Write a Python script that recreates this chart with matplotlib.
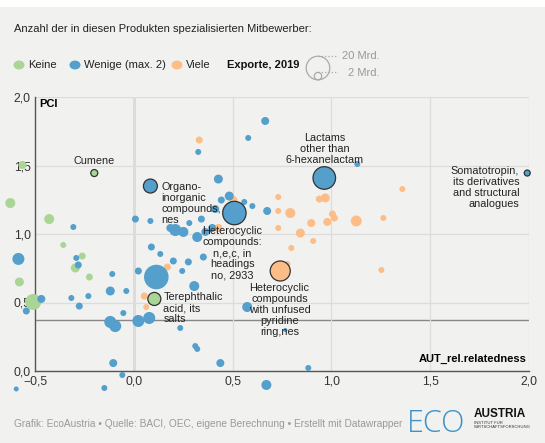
import matplotlib
matplotlib.use("Agg")
import matplotlib.pyplot as plt
from matplotlib.patches import Rectangle, Circle
import numpy as np

plt.rcParams['font.family'] = ['Liberation Sans', 'DejaVu Sans']

# relatedness (x), PCI (y), exports in Mrd (size)
keine_x = [-0.625, -0.564, -0.428, -0.200, -0.357, -0.261, -0.296, -0.225, -0.579, -0.509, 0.104]
keine_y = [1.226, 1.504, 1.109, 1.445, 0.920, 0.839, 0.752, 0.686, 0.650, 0.504, 0.526]
keine_v = [3.6, 2.3, 3.6, 1.76, 1.29, 1.76, 2.9, 1.76, 2.9, 9.2, 6.1]

wenige_x = [-0.306, 0.008, 0.084, 0.326, 0.428, 0.579, 0.665, 0.443, 0.483, 0.559,
            0.600, 0.675, 0.342, 0.412, 0.281, 0.210, 0.251, 0.185, 0.321, 0.362,
            0.397, 0.089, 0.134, 0.200, 0.276, 0.352, 0.023, -0.109, 0.245, 0.306,
            -0.119, -0.038, -0.053, -0.119, -0.094, 0.023, 0.078, 0.235, 0.574, 0.311,
            0.321, -0.104, 0.438, -0.058, -0.149, 0.671, -0.595, 0.883, -0.584, -0.468,
            -0.544, -0.316, -0.276, -0.230, -0.291, -0.281, 1.131, 0.767,
            0.084, 0.509, 0.114, 0.964, 1.991]
wenige_y = [1.051, 1.109, 1.095, 1.599, 1.401, 1.701, 1.825, 1.248, 1.277, 1.234,
            1.204, 1.168, 1.109, 1.182, 1.080, 1.029, 1.015, 1.044, 0.978, 1.015,
            1.044, 0.905, 0.854, 0.803, 0.796, 0.832, 0.730, 0.708, 0.730, 0.620,
            0.584, 0.584, 0.423, 0.358, 0.328, 0.365, 0.387, 0.314, 0.467, 0.182,
            0.161, 0.058, 0.058, -0.029, -0.124, -0.102, -0.131, 0.022, 0.818, 0.526,
            0.438, 0.533, 0.474, 0.547, 0.825, 0.774, 1.511, 0.299,
            1.350, 1.153, 0.686, 1.409, 1.445]
wenige_v = [1.29, 1.76, 1.29, 1.29, 2.9, 1.29, 2.3, 1.76, 2.9, 1.29,
            1.29, 2.3, 1.76, 2.3, 1.29, 5.2, 3.6, 2.3, 3.6, 2.3,
            2.3, 1.76, 1.29, 1.76, 1.76, 1.76, 1.76, 1.29, 1.29, 3.6,
            2.9, 1.29, 1.29, 5.2, 5.2, 5.2, 5.2, 1.29, 3.6, 1.29,
            1.29, 2.3, 2.3, 1.29, 1.29, 3.6, 0.9, 1.29, 5.2, 2.3,
            1.76, 1.29, 1.76, 1.29, 1.29, 1.76, 1.29, 0.6,
            7.0, 19.7, 21.7, 18.3, 1.29]

viele_x = [0.331, 0.504, 0.428, 0.170, 0.053, 0.063, 0.731, 0.731, 0.731, 0.939,
           0.969, 1.359, 0.792, 1.005, 1.015, 0.898, 0.979, 1.126, 1.263, 0.843,
           0.908, 0.797, 0.777, 1.253, 0.741]
viele_y = [1.686, 1.248, 1.044, 0.759, 0.547, 0.467, 1.270, 1.168, 1.044, 1.255,
           1.263, 1.328, 1.153, 1.146, 1.117, 1.080, 1.088, 1.095, 1.117, 1.007,
           0.949, 0.898, 0.781, 0.737, 0.730]
viele_v = [1.76, 2.3, 2.3, 1.76, 1.76, 1.29, 1.29, 1.29, 1.29, 1.76,
           2.9, 1.29, 3.6, 1.76, 1.76, 2.3, 2.3, 4.3, 1.29, 2.9,
           1.29, 1.29, 1.29, 1.29, 14.4]

# labelled products (outlined)
lab_x = [-0.200, 0.104, 0.084, 0.509, 0.964, 0.741, 1.991]
lab_y = [1.445, 0.526, 1.350, 1.153, 1.409, 0.730, 1.445]
lab_v = [1.76, 6.1, 7.0, 19.7, 18.3, 14.4, 1.29]
lab_c = ['g', 'g', 'b', 'b', 'b', 'o', 'b']

ref_x, ref_y = 0.0, 0.37

GREEN = '#aad597'
BLUE = '#549fcb'
ORANGE = '#fdbd87'
BG = '#f1f1f0'
cmap = {'g': GREEN, 'b': BLUE, 'o': ORANGE}

W, H, DPI = 545, 443, 100
fig = plt.figure(figsize=(W / DPI, H / DPI), dpi=DPI)
fig.patch.set_facecolor(BG)
fig.patches.append(Rectangle((0, 1 - 7 / H), 1, 7 / H, transform=fig.transFigure,
                             facecolor='white', edgecolor='none', zorder=0))

ax = fig.add_axes([35 / W, 72 / H, 494 / W, 274 / H])
ax.set_facecolor(BG)
ax.set_xlim(-0.5, 2.0)
ax.set_ylim(0, 2.0)

# radius px for 20 Mrd = 11.8 -> marker size in points^2
def size_of(v):
    r_px = 11.8 * np.sqrt(np.array(v) / 20.0)
    r_pt = r_px * 72 / DPI
    return 4 * r_pt ** 2

for xs, ys, vs, col in [(keine_x, keine_y, keine_v, GREEN),
                        (viele_x, viele_y, viele_v, ORANGE),
                        (wenige_x, wenige_y, wenige_v, BLUE)]:
    ax.scatter(xs, ys, s=size_of(vs), c=col, edgecolors='none', clip_on=False, zorder=3)

ax.scatter(lab_x, lab_y, s=size_of(lab_v), c=[cmap[k] for k in lab_c],
           edgecolors='#333333', linewidths=0.9, clip_on=False, zorder=4)

ax.set_xticks([-0.5, 0, 0.5, 1.0, 1.5, 2.0])
ax.set_yticks([0, 0.5, 1.0, 1.5, 2.0])
ax.set_xticklabels(['\u22120,5', '0,0', '0,5', '1,0', '1,5', '2,0'])
ax.set_yticklabels(['0,0', '0,5', '1,0', '1,5', '2,0'])
ax.tick_params(length=0, labelsize=8.7, labelcolor='#333333', pad=3)
ax.grid(True, color='#dcdcdc', linewidth=0.9, zorder=0)
for s in ['top', 'right']:
    ax.spines[s].set_visible(False)
for s in ['left', 'bottom']:
    ax.spines[s].set_color('#555555')
    ax.spines[s].set_linewidth(1.0)
ax.axvline(ref_x, color='#888888', linewidth=1.0, zorder=1)
ax.axhline(ref_y, color='#888888', linewidth=1.0, zorder=1)

ax.text(-0.48, 1.985, 'PCI', fontsize=8, fontweight='bold', va='top', ha='left', zorder=5)
ax.text(1.99, 0.05, 'AUT_rel.relatedness', fontsize=8, fontweight='bold', va='bottom', ha='right', zorder=5)

tk = dict(fontsize=7.8, color='#222222', linespacing=1.12, zorder=6)
ax.text(-0.200, 1.50, 'Cumene', ha='center', va='bottom', **tk)
ax.text(0.139, 1.378, 'Organo-\ninorganic\ncompounds,\nnes', ha='left', va='top', **tk)
ax.text(0.499, 1.055, 'Heterocyclic\ncompounds:\nn,e,c, in\nheadings\nno, 2933', ha='center', va='top', **tk)
ax.text(0.149, 0.575, 'Terephthalic\nacid, its\nsalts', ha='left', va='top', **tk)
ax.text(0.737, 0.642, 'Heterocyclic\ncompounds\nwith unfused\npyridine\nring,nes', ha='center', va='top', **tk)
ax.text(0.966, 1.505, 'Lactams\nother than\n6-hexanelactam', ha='center', va='bottom', **tk)
ax.text(1.951, 1.495, 'Somatotropin,\nits derivatives\nand structural\nanalogues', ha='right', va='top',
        multialignment='right', **tk)

# header
def fy(py):
    return 1 - py / H

fig.text(14 / W, fy(29), 'Anzahl der in diesen Produkten spezialisierten Mitbewerber:',
         fontsize=8.0, color='#222222', va='center')
leg = [(19, 'Keine', GREEN), (75, 'Wenige (max. 2)', BLUE), (177, 'Viele', ORANGE)]
for px, name, col in leg:
    fig.patches.append(Circle((px / W, fy(65)), 5.5 / W, transform=fig.transFigure,
                              facecolor=col, edgecolor='none'))
    fig.text((px + 9) / W, fy(65), name, fontsize=8.0, color='#222222', va='center')
fig.text(227 / W, fy(65), 'Exporte, 2019', fontsize=8.0, fontweight='bold', color='#111111', va='center')

# bubble size legend drawn in pixel space
lax = fig.add_axes([0, 0, 1, 1], facecolor='none')
lax.set_xlim(0, W)
lax.set_ylim(H, 0)
lax.axis('off')
lax.add_patch(Circle((318, 68), 11.8, facecolor='none', edgecolor='#aaaaaa', linewidth=0.9))
lax.add_patch(Circle((318, 76.1), 3.7, facecolor='none', edgecolor='#aaaaaa', linewidth=0.9))
lax.plot([318, 338], [56.2, 56.2], color='#aaaaaa', linestyle=':', linewidth=0.9)
lax.plot([318, 338], [72.4, 72.4], color='#aaaaaa', linestyle=':', linewidth=0.9)
lax.text(380, 56, '20 Mrd.', fontsize=8, color='#999999', ha='right', va='center')
lax.text(380, 73, '2 Mrd.', fontsize=8, color='#999999', ha='right', va='center')

# footer
fig.text(14 / W, fy(424), 'Grafik: EcoAustria \u2022 Quelle: BACI, OEC, eigene Berechnung \u2022 Erstellt mit Datawrapper',
         fontsize=7.3, color='#9a9a9a', va='center')
lax.text(407, 424, 'ECO', fontsize=22, color='#3d93c8', ha='left', va='center', fontweight='light',
         family=['Open Sans', 'DejaVu Sans'])
lax.text(474, 414, 'AUSTRIA', fontsize=8.5, fontweight='bold', color='#111111', ha='left', va='center')
lax.text(474, 424.5, 'INSTITUT FÜR\nWIRTSCHAFTSFORSCHUNG', fontsize=3, color='#333333', ha='left',
         va='center', linespacing=1.0)

fig.savefig('out.png', dpi=DPI, facecolor=BG)
